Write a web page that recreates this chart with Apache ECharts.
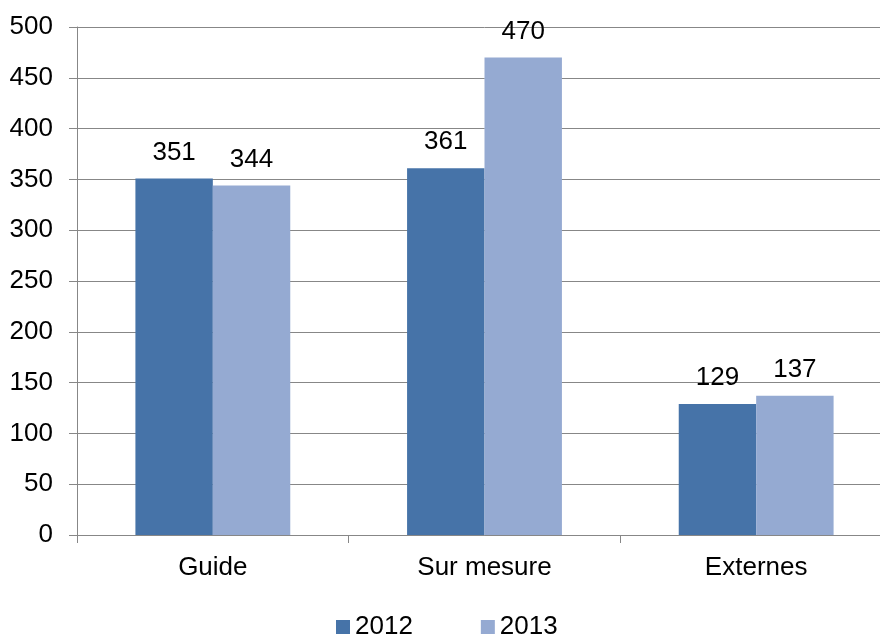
<!DOCTYPE html>
<html>
<head>
<meta charset="utf-8">
<script src="https://cdn.jsdelivr.net/npm/echarts@6/dist/echarts.min.js"></script>
<style>
html,body{margin:0;padding:0;background:#fff;overflow:hidden;width:880px;height:637px;}
#chart{width:892px;height:637px;}
</style>
</head>
<body>
<div id="chart"></div>
<script>
var categories = ['Guide', 'Sur mesure', 'Externes'];
var seriesNames = ['2012', '2013'];
var values2012 = [351, 361, 129];
var values2013 = [344, 470, 137];
var yTicks = {min: 0, max: 500, interval: 50};

var FONT = '"Liberation Sans", Arial, sans-serif';
var GRAY = '#878787';
var chart = echarts.init(document.getElementById('chart'), null, {renderer: 'canvas'});
var labelStyle = {show: true, position: 'top', distance: 13, color: '#000', fontSize: 26, fontFamily: FONT};
chart.setOption({
  animation: false,
  backgroundColor: '#fff',
  grid: {left: 77, right: 0, top: 27, bottom: 102, containLabel: false},
  legend: {
    data: seriesNames,
    left: 336, top: 614,
    icon: 'rect', itemWidth: 14, itemHeight: 14, itemGap: 68,
    textStyle: {fontSize: 26, fontFamily: FONT, color: '#000', padding: [0, 0, 0, 0]},
    padding: 0
  },
  xAxis: {
    type: 'category',
    data: categories,
    axisLine: {show: true, lineStyle: {color: GRAY, width: 1}},
    axisTick: {show: true, length: 8, alignWithLabel: false, lineStyle: {color: GRAY}},
    axisLabel: {fontSize: 26, fontFamily: FONT, color: '#000', margin: 20}
  },
  yAxis: {
    type: 'value',
    min: yTicks.min, max: yTicks.max, interval: yTicks.interval,
    axisLine: {show: true, lineStyle: {color: GRAY, width: 1}},
    axisTick: {show: true, length: 8, lineStyle: {color: GRAY}},
    splitLine: {show: true, lineStyle: {color: GRAY, width: 1}},
    axisLabel: {fontSize: 26, fontFamily: FONT, color: '#000', margin: 24}
  },
  series: [
    {name: seriesNames[0], type: 'bar', data: values2012, barGap: '0%', barCategoryGap: '43%',
     itemStyle: {color: '#4673A8'}, label: labelStyle},
    {name: seriesNames[1], type: 'bar', data: values2013, barGap: '0%', barCategoryGap: '43%',
     itemStyle: {color: '#95AAD2'}, label: labelStyle}
  ]
});
</script>
</body>
</html>
